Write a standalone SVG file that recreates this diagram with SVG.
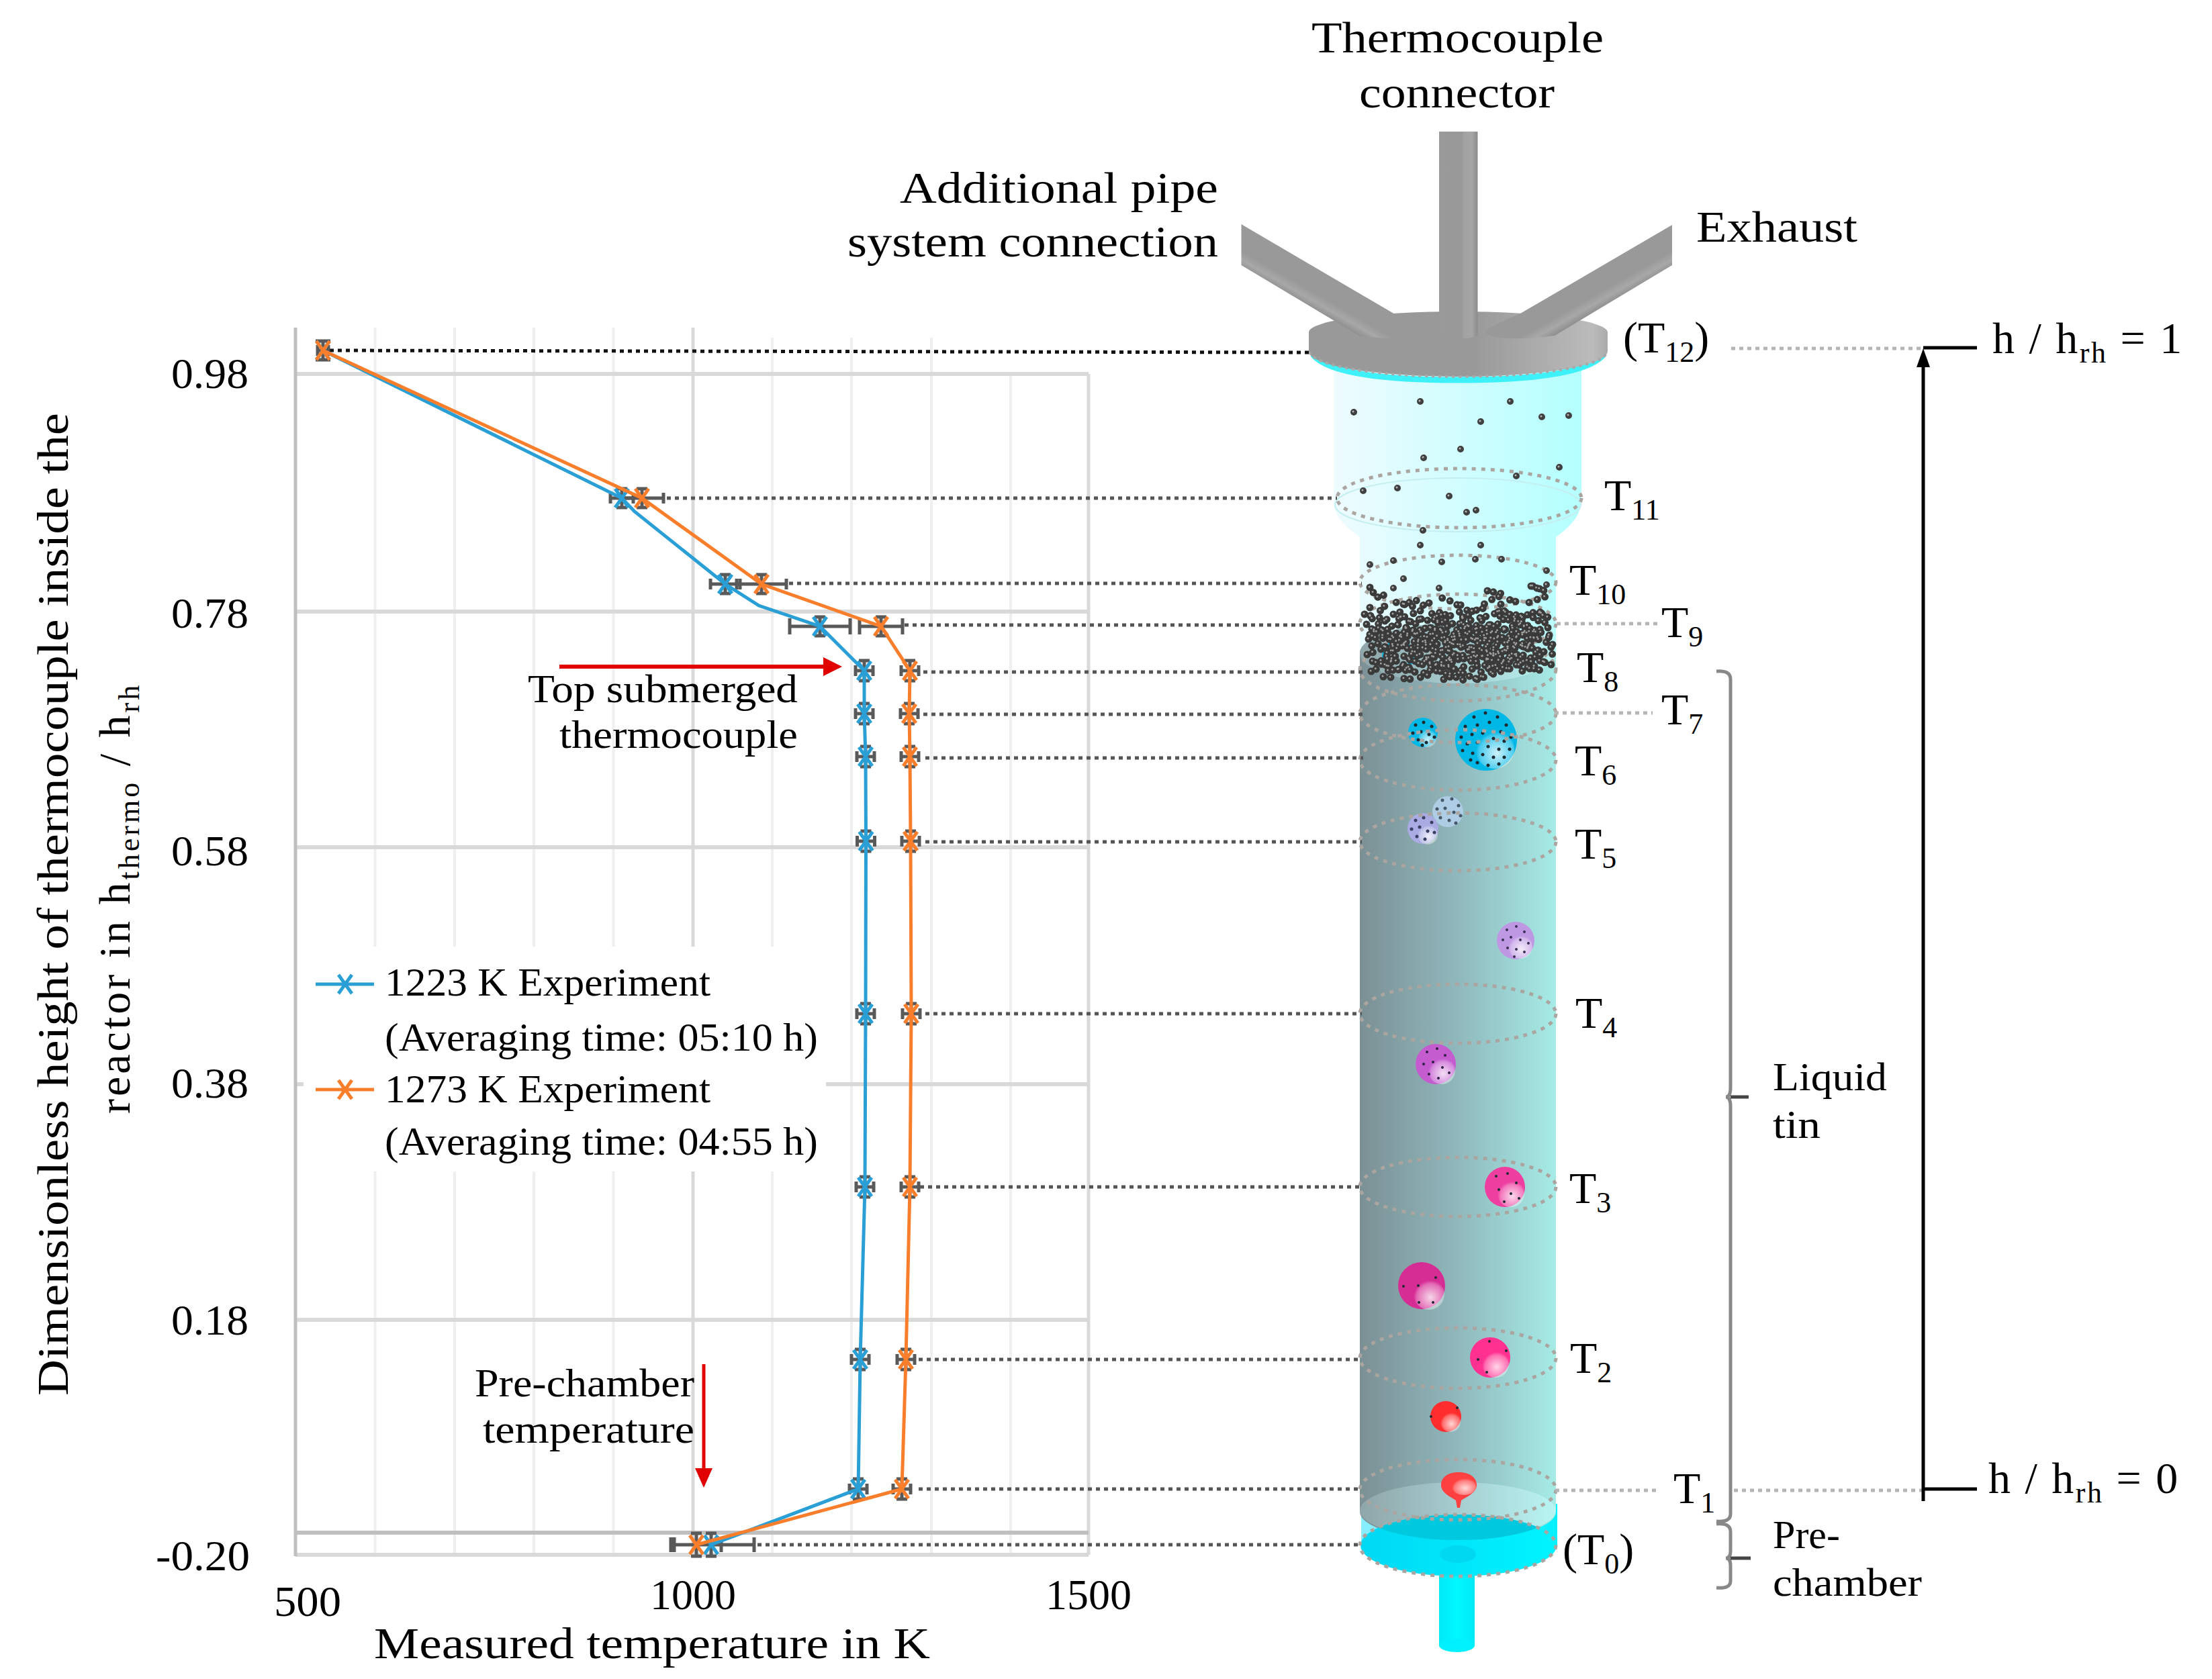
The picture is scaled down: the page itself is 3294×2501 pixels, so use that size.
<svg xmlns="http://www.w3.org/2000/svg" xmlns:xlink="http://www.w3.org/1999/xlink" width="3294" height="2501" viewBox="0 0 3294 2501">
<style>
text{font-family:"Liberation Serif","Noto Serif",serif;fill:#000;font-size:64px}
.t{font-size:66px}
.sub{font-size:44px}
.gM{stroke:#d9d9d9;stroke-width:6;fill:none}
.gm{stroke:#efefef;stroke-width:4;fill:none}
.blue{stroke:#2a9fd6;stroke-width:5;fill:none}
.org{stroke:#f97e2b;stroke-width:5;fill:none}
.err{stroke:#595959;stroke-width:5;fill:none}
.ld{stroke:#555;stroke-width:5;stroke-dasharray:6 6;fill:none}
.ll{stroke:#b5b5b5;stroke-width:5;stroke-dasharray:6 6;fill:none}
.ring{stroke:#aaa5a0;stroke-width:5;stroke-dasharray:6 8;fill:none}
.brk{stroke:#888;stroke-width:5;fill:none}
.pts{fill:none;stroke-linecap:round}
.dk{fill:none;stroke:#1c2a33;stroke-width:5;stroke-linecap:round}
</style>
<defs>
<linearGradient id="liq"><stop offset="0" stop-color="#7b9095"/><stop offset=".5" stop-color="#90b8bc"/><stop offset="1" stop-color="#a6ebe6"/></linearGradient>
<linearGradient id="liqL"><stop offset="0" stop-color="#8fa5a9"/><stop offset=".5" stop-color="#a6cdd0"/><stop offset="1" stop-color="#b8f5f2"/></linearGradient>
<linearGradient id="gas"><stop offset="0" stop-color="#eefbff"/><stop offset="1" stop-color="#b4ffff"/></linearGradient>
<linearGradient id="cy"><stop offset="0" stop-color="#8aeeff"/><stop offset="1" stop-color="#00f0ff"/></linearGradient>
<linearGradient id="disk"><stop offset="0" stop-color="#00d8f4"/><stop offset="1" stop-color="#00f4ff"/></linearGradient>
<linearGradient id="pipeV"><stop offset="0" stop-color="#9a9a9a"/><stop offset=".6" stop-color="#999"/><stop offset=".64" stop-color="#a2a2a2"/><stop offset=".85" stop-color="#a6a6a6"/><stop offset="1" stop-color="#8c8c8c"/></linearGradient>
<linearGradient id="pipeL" gradientUnits="userSpaceOnUse" x1="1880" y1="353" x2="1852" y2="402"><stop offset="0" stop-color="#999"/><stop offset=".6" stop-color="#999"/><stop offset=".8" stop-color="#a8a8a8"/><stop offset="1" stop-color="#8e8e8e"/></linearGradient>
<linearGradient id="pipeR" gradientUnits="userSpaceOnUse" x1="2458" y1="353" x2="2486" y2="402"><stop offset="0" stop-color="#999"/><stop offset=".6" stop-color="#999"/><stop offset=".8" stop-color="#a8a8a8"/><stop offset="1" stop-color="#8e8e8e"/></linearGradient>
<linearGradient id="lid"><stop offset="0" stop-color="#999"/><stop offset=".55" stop-color="#999"/><stop offset=".95" stop-color="#bbb"/><stop offset="1" stop-color="#aaa"/></linearGradient>
<linearGradient id="cyp"><stop offset="0" stop-color="#00e8f6"/><stop offset=".5" stop-color="#00f8ff"/><stop offset="1" stop-color="#00e8f6"/></linearGradient>
<radialGradient id="hl" cx=".55" cy=".6" r=".55"><stop offset="0" stop-color="#fff" stop-opacity=".8"/><stop offset=".8" stop-color="#fff" stop-opacity=".3"/><stop offset="1" stop-color="#fff" stop-opacity="0"/></radialGradient>
<clipPath id="dc"><ellipse cx="2172" cy="2302" rx="146" ry="46"/></clipPath>
<path id="xm" d="M-10-14L10 14M-10 14L10-14"/>
<path id="eb" d="M-13 0H13M-13-8V8M13-8V8M-8-15H8M-8 15H8M0-15V15"/>
<g id="cloud" class="pts">
<path d="M2035 930L2070 895L2110 905L2150 890L2190 912L2230 888L2270 900L2312 885" stroke-dasharray="0 12 0 17 0 9 0 21 0 13"/>
<path d="M2032 915L2075 925L2120 908L2165 930L2205 905L2250 925L2290 910L2314 925" stroke-dasharray="0 9 0 14 0 11 0 19"/>
<path d="M2040 945L2080 930L2125 950L2170 925L2215 945L2260 930L2312 948" stroke-dasharray="0 11 0 8 0 16 0 10 0 13"/>
<path d="M2312 960L2270 945L2225 965L2180 942L2135 962L2090 945L2035 965" stroke-dasharray="0 10 0 12 0 7 0 18"/>
<path d="M2036 975L2080 958L2125 980L2170 958L2215 982L2260 960L2314 975" stroke-dasharray="0 9 0 13 0 8 0 11 0 15"/>
<path d="M2310 990L2265 975L2220 995L2175 975L2130 995L2085 975L2040 990" stroke-dasharray="0 10 0 8 0 14 0 12"/>
<path d="M2042 1000L2075 985L2115 1005L2150 990L2190 1008L2225 992L2270 1000L2300 985" stroke-dasharray="0 8 0 15 0 10 0 19 0 12"/>
<path d="M2060 1008L2105 1012L2145 1000L2185 1015L2215 1005L2250 985" stroke-dasharray="0 11 0 20 0 9 0 16"/>
<path d="M2130 935L2165 945L2195 930L2235 950L2150 955L2190 965L2230 975L2150 985" stroke-dasharray="0 8 0 10 0 7 0 12"/>
<path d="M2060 940L2095 960L2060 975L2100 995L2060 1000" stroke-dasharray="0 9 0 7 0 12"/>
<path d="M2240 910L2280 935L2250 955L2295 975L2260 990L2300 1000" stroke-dasharray="0 10 0 8 0 13"/>
<path d="M2040 875L2050 890L2065 885M2090 900L2115 893M2280 873L2300 880L2275 870M2215 880L2240 885" stroke-dasharray="0 9 0 11"/>
<path d="M2040 905L2045 960L2055 930L2070 1000L2085 910L2100 985L2115 915L2130 990L2145 905L2160 1005L2175 900L2190 990L2205 915L2220 1000L2235 900L2250 985L2265 910L2280 975L2295 905L2310 965" stroke-dasharray="0 13 0 19 0 11 0 23 0 15 0 27"/>
<path d="M2038 952L2060 918L2078 972L2098 925L2118 968L2138 918L2158 972L2178 918L2198 985L2218 925L2238 992L2258 918L2278 952L2298 930" stroke-dasharray="0 16 0 11 0 21 0 13"/>
<path d="M2044 985L2090 1000L2140 975L2190 998L2240 968L2290 990M2290 950L2240 990L2190 950L2140 1000L2090 960L2044 940" stroke-dasharray="0 14 0 9 0 17 0 12 0 22"/>
<path d="M2075 915L2110 930L2150 915L2195 925L2235 910L2280 922L2305 905M2305 935L2260 945L2215 930L2170 950L2125 935L2080 950" stroke-dasharray="0 12 0 16 0 8 0 19"/>
<path d="M2150 1012L2180 1000L2120 985L2160 970L2100 965L2150 950L2090 935M2200 1012L2235 1000L2270 985L2215 975L2280 960L2210 955L2290 940" stroke-dasharray="0 10 0 15 0 12"/>
</g>
<path id="free" class="pts" d="M2115 598h.01M2249 598h.01M2016 614h.01M2205 628h.01M2296 621h.01M2336 619h.01M2175 669h.01M2120 682h.01M2322 696h.01M2258 709h.01M2030 731h.01M2081 727h.01M2158 739h.01M2184 763h.01M2198 760h.01M2119 790h.01M2115 812h.01M2205 812h.01M2040 841h.01M2075 835h.01M2147 837h.01M2197 833h.01M2236 833h.01M2303 850h.01M2090 862h.01M2075 876h.01M2143 876h.01M2303 871h.01"/>
</defs>
<rect width="3294" height="2501" fill="#fff"/>

<g id="chart">
<path class="gm" d="M558.500 488V2316M677 488V2316M795 488V2316M913.500 488V2316M1150 503V2316M1268 503V2316M1387 503V2316M1505 557V2316"/>
<path class="gM" style="stroke-width:5" d="M1032 488V2316M1621 557V2316"/>
<path class="gM" d="M440 557H1621M440 911H1621M440 1262H1621M440 1615H1621M440 1966H1621M440 2316H1621"/>
<path class="gM" style="stroke:#bfbfbf" d="M440 2283H1621"/>
<path class="gM" style="stroke:#bfbfbf;stroke-width:5" d="M440 488V2318"/>
<rect x="452" y="1410" width="778" height="335" fill="#fff"/>
</g>

<g id="reactor">
<rect id="pipe-bottom" x="2143" y="2330" width="53" height="122" fill="url(#cyp)"/>
<ellipse cx="2169.500" cy="2451" rx="26.500" ry="10" fill="#00f0ff"/>
<rect x="2027" y="2240" width="292" height="62" fill="url(#cy)"/>
<path id="gas-section" fill="url(#gas)" d="M1986 545V750Q1988 775 2025 800V985H2317V800Q2352 775 2355 750V545Z"/>
<ellipse cx="2171" cy="752" rx="183" ry="40" fill="none" stroke="#c4eef0" stroke-width="2"/>
<path id="liquid" fill="url(#liq)" d="M2025 973V2252A146 42 0 0 0 2317 2252V973A146 45 0 0 0 2025 973Z"/>
<ellipse cx="2171" cy="973" rx="146" ry="45" fill="url(#liqL)"/>
<ellipse cx="2171" cy="2250" rx="146" ry="42" fill="url(#liqL)"/>
<ellipse cx="2172" cy="2302" rx="146" ry="46" fill="url(#disk)"/>
<g clip-path="url(#dc)"><ellipse cx="2171" cy="2250" rx="146" ry="44" fill="#00c8de"/></g>
<ellipse cx="2171" cy="2315" rx="27" ry="13" fill="#00d8f2"/>

<path d="M1955 528Q1985 566 2171 566T2388 528" fill="none" stroke="#3ef0f8" stroke-width="9"/>
<path id="lid-body" fill="url(#lid)" d="M1949 495V523C1949 545 2050 561 2171 561S2394 545 2394 523V495A222.500 31 0 0 0 1949 495Z"/>
<path id="pipe-left" fill="url(#pipeL)" d="M1848.500 334V395L2024 500Q2100 510 2132 497Q2135 490 2075.500 467Z"/>
<path id="pipe-right" fill="url(#pipeR)" d="M2490 335V395L2315 500Q2240 510 2211 497Q2208 490 2264 467Z"/>
<path id="pipe-center" d="M2143 196H2200.500V500Q2171 510 2143 500Z" fill="url(#pipeV)"/>
<path d="M1950 524C1955 545 2050 561 2171 561S2390 545 2393 524" fill="none" stroke="#a8a8a8" stroke-width="4" stroke-dasharray="4 6"/>

<g id="bubbles">
<circle cx="2082" cy="977" r="21" fill="none" stroke="#0cb4e0" stroke-width="6"/>
<g id="b-blue-big"><circle cx="2213" cy="1102" r="46" fill="#00b8e6"/><circle cx="2226" cy="1116" r="29" fill="url(#hl)"/><path class="dk" d="M2195 1068h.01M2212 1062h.01M2230 1068h.01M2243 1080h.01M2182 1082h.01M2200 1080h.01M2218 1076h.01M2235 1090h.01M2250 1098h.01M2176 1098h.01M2192 1094h.01M2208 1092h.01M2224 1100h.01M2240 1104h.01M2185 1108h.01M2200 1106h.01M2216 1112h.01M2232 1116h.01M2248 1116h.01M2178 1118h.01M2193 1122h.01M2208 1124h.01M2224 1128h.01M2240 1128h.01M2200 1136h.01M2216 1140h.01M2232 1138h.01M2190 1132h.01"/></g>
<g id="b-blue-small"><circle cx="2119" cy="1091" r="22" fill="#00b8e6"/><circle cx="2125" cy="1099" r="14" fill="url(#hl)"/><path class="dk" d="M2108 1080h.01M2120 1076h.01M2132 1082h.01M2104 1092h.01M2116 1090h.01M2128 1094h.01M2136 1098h.01M2112 1102h.01M2124 1106h.01M2118 1110h.01"/></g>
<g id="b-lightblue"><circle cx="2156" cy="1209" r="23" fill="#aecde4"/><path class="dk" style="stroke:#45586a" d="M2148 1192h.01M2162 1190h.01M2172 1200h.01M2140 1205h.01M2152 1204h.01M2165 1210h.01M2175 1215h.01M2145 1218h.01M2158 1222h.01M2168 1226h.01"/></g>
<g id="b-peri"><circle cx="2119" cy="1234" r="23" fill="#a9abe2"/><circle cx="2126" cy="1243" r="15" fill="url(#hl)"/><path class="dk" style="stroke:#3a3f66" d="M2108 1222h.01M2120 1218h.01M2132 1225h.01M2102 1235h.01M2114 1232h.01M2126 1238h.01M2136 1240h.01M2110 1246h.01M2122 1250h.01"/></g>
<g id="b-purple"><circle cx="2257" cy="1401" r="28" fill="#bf98e4"/><circle cx="2264" cy="1410" r="18" fill="url(#hl)"/><path class="dk" style="stroke:#3a2f55;stroke-width:4" d="M2244 1385h.01M2258 1380h.01M2270 1388h.01M2238 1400h.01M2250 1396h.01M2264 1400h.01M2276 1405h.01M2245 1412h.01M2258 1414h.01M2270 1418h.01M2255 1425h.01"/></g>
<g id="b-violet"><circle cx="2138" cy="1585" r="30" fill="#c45cd0"/><circle cx="2147" cy="1595" r="20" fill="url(#hl)"/><path class="dk" style="stroke:#2f1f44;stroke-width:4" d="M2125 1567h.01M2140 1562h.01M2152 1572h.01M2120 1585h.01M2134 1582h.01M2148 1590h.01M2158 1598h.01M2128 1600h.01M2142 1606h.01"/></g>
<g id="b-pink"><circle cx="2241" cy="1768" r="30" fill="#ee3ea0"/><circle cx="2250" cy="1778" r="20" fill="url(#hl)"/><path class="dk" style="stroke-width:4" d="M2228 1752h.01M2245 1748h.01M2258 1762h.01M2232 1772h.01M2250 1778h.01M2240 1790h.01M2262 1785h.01"/></g>
<g id="b-magenta"><circle cx="2117" cy="1915" r="35" fill="#d62d95"/><circle cx="2128" cy="1928" r="23" fill="url(#hl)"/><path class="dk" style="stroke-width:4" d="M2090 1916h.01M2112 1915h.01M2138 1903h.01M2113 1940h.01M2134 1940h.01"/></g>
<g id="b-hotpink"><circle cx="2219" cy="2022" r="30" fill="#ff3090"/><circle cx="2227" cy="2032" r="20" fill="url(#hl)"/><path class="dk" style="stroke-width:4" d="M2218 1998h.01M2243 2012h.01M2201 2025h.01M2214 2044h.01"/></g>
<g id="b-red"><circle cx="2153" cy="2110" r="23" fill="#ff2d2d"/><circle cx="2160" cy="2118" r="15" fill="url(#hl)"/><path class="dk" style="stroke-width:4" d="M2170 2097h.01M2131 2110h.01"/></g>
<g id="b-forming"><path fill="#ff4040" d="M2146 2212C2146 2200 2157 2193 2172 2193S2199 2200 2199 2212C2199 2224 2183 2230 2176 2235L2174 2246H2170L2168 2235C2161 2230 2146 2224 2146 2212Z"/><ellipse cx="2180" cy="2214" rx="18" ry="13" fill="url(#hl)"/></g>
</g>

<g id="rings">
<ellipse class="ring" cx="2173" cy="742" rx="182" ry="44"/>
<ellipse class="ring" cx="2171" cy="867" rx="146" ry="40"/>
<ellipse class="ring" cx="2171" cy="929" rx="146" ry="44"/>
<ellipse class="ring" cx="2171" cy="997" rx="146" ry="47"/>
<ellipse class="ring" cx="2171" cy="1063" rx="146" ry="43"/>
<ellipse class="ring" cx="2171" cy="1132" rx="146" ry="45"/>
<ellipse class="ring" cx="2171" cy="1254" rx="146" ry="43"/>
<ellipse class="ring" cx="2171" cy="1510" rx="146" ry="44"/>
<ellipse class="ring" cx="2171" cy="1768" rx="146" ry="44"/>
<ellipse class="ring" cx="2171" cy="2023" rx="146" ry="45"/>
<ellipse class="ring" cx="2171" cy="2219" rx="146" ry="45"/>
<ellipse class="ring" cx="2171" cy="2302" rx="146" ry="46"/>
</g>

<g id="particles">
<use href="#cloud" style="stroke:#3a3a3a;stroke-width:11"/>
<use href="#cloud" transform="translate(-1 -1)" style="stroke:#a0a0a0;stroke-width:3"/>
<use href="#free" style="stroke:#404040;stroke-width:10"/>
<use href="#free" transform="translate(-1 -1)" style="stroke:#b5b5b5;stroke-width:3"/>
</g>
</g>

<g id="connectors">
<path fill="none" stroke="#111" stroke-width="5" stroke-dasharray="6 6" d="M491 522L1953 525"/>
<path class="ld" d="M993 742H1991M1175 869H2028M1347 931H2028M1375 1001H2030M1375 1064H2030M1378 1129H2030M1378 1254H2028M1378 1510H2028M1370 1768H2028M1368 2025H2028M1368 2218H2028M1128 2301H2028"/>
<path class="ll" d="M2318 929H2474M2315 1062H2461M2316 2220H2468M2582 2220H2864M2578 519H2864"/>
<path id="arrow-height" fill="none" stroke="#000" stroke-width="5" d="M2864 2236V540"/>
<path fill="#000" d="M2864 519L2874 547H2854Z"/>
<path fill="none" stroke="#000" stroke-width="5" d="M2864 518H2944M2864 2218H2944"/>
<path class="brk" d="M2556 1000Q2577 998 2577 1012V1620Q2577 1634 2570 1634Q2577 1634 2577 1648V2255Q2577 2268 2556 2266"/>
<path class="brk" style="stroke:#444" d="M2577 1634H2604"/>
<path class="brk" d="M2556 2270Q2577 2268 2577 2282V2310Q2577 2321 2570 2321Q2577 2321 2577 2332V2355Q2577 2367 2556 2365"/>
<path class="brk" style="stroke:#444" d="M2577 2321H2607"/>
<path id="arrow-top" fill="none" stroke="#e00000" stroke-width="6" d="M833 993H1228"/>
<path fill="#e00000" d="M1254 993L1226 979V1007Z"/>
<path id="arrow-pre" fill="none" stroke="#e00000" stroke-width="5" d="M1048 2032V2190"/>
<path fill="#e00000" d="M1048 2216L1035 2187H1061Z"/>
</g>

<g id="series">
<g class="err">
<path d="M473 522H489M473 514V530M489 514V530M470 508H492M470 536H492M481 508V536"/>
<path d="M909 742H943M909 734V750M943 734V750M918 728H934M918 756H934M926 728V756"/>
<path d="M924 742H988M924 734V750M988 734V750M948 728H964M948 756H964M956 728V756"/>
<path d="M1058 870H1102M1058 862V878M1102 862V878M1072 856H1088M1072 884H1088M1080 856V884"/>
<path d="M1097 870H1171M1097 862V878M1171 862V878M1126 856H1142M1126 884H1142M1134 856V884"/>
<path d="M1176 933H1266M1176 921V945M1266 921V945M1213 919H1229M1213 947H1229M1221 919V947"/>
<path d="M1280 933H1344M1280 921V945M1344 921V945M1304 919H1320M1304 947H1320M1312 919V947"/>
<path d="M999 2301H1123M1004 2290V2312M1074 2290V2312M1123 2290V2312M999 2290V2312M1029 2284H1045M1029 2318H1045M1037 2284V2318M1051 2284H1067M1051 2318H1067M1059 2284V2318"/>
</g>
<g class="err">
<use href="#eb" x="1287" y="999"/><use href="#eb" x="1287" y="1063"/><use href="#eb" x="1289" y="1127"/><use href="#eb" x="1289.500" y="1253"/><use href="#eb" x="1289" y="1510"/><use href="#eb" x="1288" y="1768"/><use href="#eb" x="1281" y="2025"/><use href="#eb" x="1278" y="2218"/>
<use href="#eb" x="1355" y="999"/><use href="#eb" x="1354" y="1063"/><use href="#eb" x="1355" y="1127"/><use href="#eb" x="1356" y="1253"/><use href="#eb" x="1357" y="1510"/><use href="#eb" x="1355" y="1768"/><use href="#eb" x="1349" y="2025"/><use href="#eb" x="1343" y="2218"/>
</g>
<path class="blue" d="M481 522L926 742L945 762L1080 870L1130 902L1221 933L1287 999L1287 1063L1289 1127L1289.500 1253L1289 1510L1288 1768L1281 2025L1278 2218L1059 2301"/>
<g class="blue">
<use href="#xm" x="481" y="522"/><use href="#xm" x="926" y="742"/><use href="#xm" x="1080" y="870"/><use href="#xm" x="1221" y="933"/><use href="#xm" x="1287" y="999"/><use href="#xm" x="1287" y="1063"/><use href="#xm" x="1289" y="1127"/><use href="#xm" x="1289.500" y="1253"/><use href="#xm" x="1289" y="1510"/><use href="#xm" x="1288" y="1768"/><use href="#xm" x="1281" y="2025"/><use href="#xm" x="1278" y="2218"/><use href="#xm" x="1059" y="2301"/>
</g>
<path class="org" d="M481 522L956 742L1134 870L1312 933L1355 999L1354 1063L1355 1127L1356 1253L1357 1510L1355 1768L1349 2025L1343 2218L1037 2301"/>
<g class="org">
<use href="#xm" x="481" y="522"/><use href="#xm" x="956" y="742"/><use href="#xm" x="1134" y="870"/><use href="#xm" x="1312" y="933"/><use href="#xm" x="1355" y="999"/><use href="#xm" x="1354" y="1063"/><use href="#xm" x="1355" y="1127"/><use href="#xm" x="1356" y="1253"/><use href="#xm" x="1357" y="1510"/><use href="#xm" x="1355" y="1768"/><use href="#xm" x="1349" y="2025"/><use href="#xm" x="1343" y="2218"/><use href="#xm" x="1037" y="2301"/>
</g>
<g id="legend-keys">
<path class="blue" d="M470 1466H557"/><use class="blue" href="#xm" x="514" y="1466"/>
<path class="org" d="M470 1623H557"/><use class="org" href="#xm" x="514" y="1623"/>
</g>
</g>

<g id="labels">
<text x="1953" y="78" textLength="435" lengthAdjust="spacingAndGlyphs" class="t">Thermocouple</text>
<text x="2024" y="160" textLength="291" lengthAdjust="spacingAndGlyphs" class="t">connector</text>
<text x="1340" y="302" textLength="474" lengthAdjust="spacingAndGlyphs" class="t">Additional pipe</text>
<text x="1262" y="382" textLength="552" lengthAdjust="spacingAndGlyphs" class="t">system connection</text>
<text x="2526" y="360" textLength="240" lengthAdjust="spacingAndGlyphs" class="t">Exhaust</text>
<text x="2417" y="525" class="t">(T<tspan class="sub" dy="14">12</tspan><tspan dy="-14">)</tspan></text>
<text x="2389" y="760" class="t">T<tspan class="sub" dy="14">11</tspan></text>
<text x="2337" y="886" class="t">T<tspan class="sub" dy="14">10</tspan></text>
<text x="2474" y="949" class="t">T<tspan class="sub" dy="14">9</tspan></text>
<text x="2348" y="1016" class="t">T<tspan class="sub" dy="14">8</tspan></text>
<text x="2474" y="1079" class="t">T<tspan class="sub" dy="14">7</tspan></text>
<text x="2345" y="1155" class="t">T<tspan class="sub" dy="14">6</tspan></text>
<text x="2345" y="1279" class="t">T<tspan class="sub" dy="14">5</tspan></text>
<text x="2346" y="1531" class="t">T<tspan class="sub" dy="14">4</tspan></text>
<text x="2337" y="1792" class="t">T<tspan class="sub" dy="14">3</tspan></text>
<text x="2338" y="2045" class="t">T<tspan class="sub" dy="14">2</tspan></text>
<text x="2492" y="2239" class="t">T<tspan class="sub" dy="14">1</tspan></text>
<text x="2327" y="2330" class="t">(T<tspan class="sub" dy="14">0</tspan><tspan dy="-14">)</tspan></text>
<text x="2967" y="526" class="t" style="letter-spacing:2.500px">h / h<tspan class="sub" dy="14">rh</tspan><tspan dy="-14"> = 1</tspan></text>
<text x="2961" y="2224" class="t" style="letter-spacing:2.500px">h / h<tspan class="sub" dy="14">rh</tspan><tspan dy="-14"> = 0</tspan></text>
<text x="2640" y="1624" textLength="170" lengthAdjust="spacingAndGlyphs" style="font-size:60px">Liquid</text>
<text x="2640" y="1695" textLength="71" lengthAdjust="spacingAndGlyphs" style="font-size:60px">tin</text>
<text x="2640" y="2306" textLength="100" lengthAdjust="spacingAndGlyphs" style="font-size:60px">Pre-</text>
<text x="2640" y="2377" textLength="222" lengthAdjust="spacingAndGlyphs" style="font-size:60px">chamber</text>

<text x="255" y="578" textLength="115" lengthAdjust="spacingAndGlyphs">0.98</text>
<text x="255" y="935" textLength="115" lengthAdjust="spacingAndGlyphs">0.78</text>
<text x="255" y="1289" textLength="115" lengthAdjust="spacingAndGlyphs">0.58</text>
<text x="255" y="1635" textLength="115" lengthAdjust="spacingAndGlyphs">0.38</text>
<text x="255" y="1988" textLength="115" lengthAdjust="spacingAndGlyphs">0.18</text>
<text x="232" y="2339" textLength="140" lengthAdjust="spacingAndGlyphs">-0.20</text>
<text x="408" y="2407" textLength="100" lengthAdjust="spacingAndGlyphs">500</text>
<text x="968" y="2397" textLength="128" lengthAdjust="spacingAndGlyphs">1000</text>
<text x="1557" y="2397" textLength="128" lengthAdjust="spacingAndGlyphs">1500</text>
<text x="557" y="2470" textLength="828" lengthAdjust="spacingAndGlyphs" class="t">Measured temperature in K</text>
<text transform="translate(101 2079) rotate(-90)" textLength="1464" lengthAdjust="spacingAndGlyphs" class="t">Dimensionless height of thermocouple inside the</text>
<text transform="translate(193 1659) rotate(-90)" class="t" style="letter-spacing:4px">reactor in h<tspan class="sub" dy="14">thermo</tspan><tspan dy="-14"> / h</tspan><tspan class="sub" dy="14">rh</tspan></text>
<text x="573" y="1483" textLength="485" lengthAdjust="spacingAndGlyphs" style="font-size:60px">1223 K Experiment</text>
<text x="573" y="1565" textLength="645" lengthAdjust="spacingAndGlyphs" style="font-size:60px">(Averaging time: 05:10 h)</text>
<text x="573" y="1642" textLength="485" lengthAdjust="spacingAndGlyphs" style="font-size:60px">1273 K Experiment</text>
<text x="573" y="1720" textLength="645" lengthAdjust="spacingAndGlyphs" style="font-size:60px">(Averaging time: 04:55 h)</text>
<text x="786" y="1046" textLength="402" lengthAdjust="spacingAndGlyphs" style="font-size:60px">Top submerged</text>
<text x="833" y="1114" textLength="355" lengthAdjust="spacingAndGlyphs" style="font-size:60px">thermocouple</text>
<text x="707" y="2080" textLength="327" lengthAdjust="spacingAndGlyphs" style="font-size:60px">Pre-chamber</text>
<text x="719" y="2149" textLength="315" lengthAdjust="spacingAndGlyphs" style="font-size:60px">temperature</text>
</g>
</svg>
